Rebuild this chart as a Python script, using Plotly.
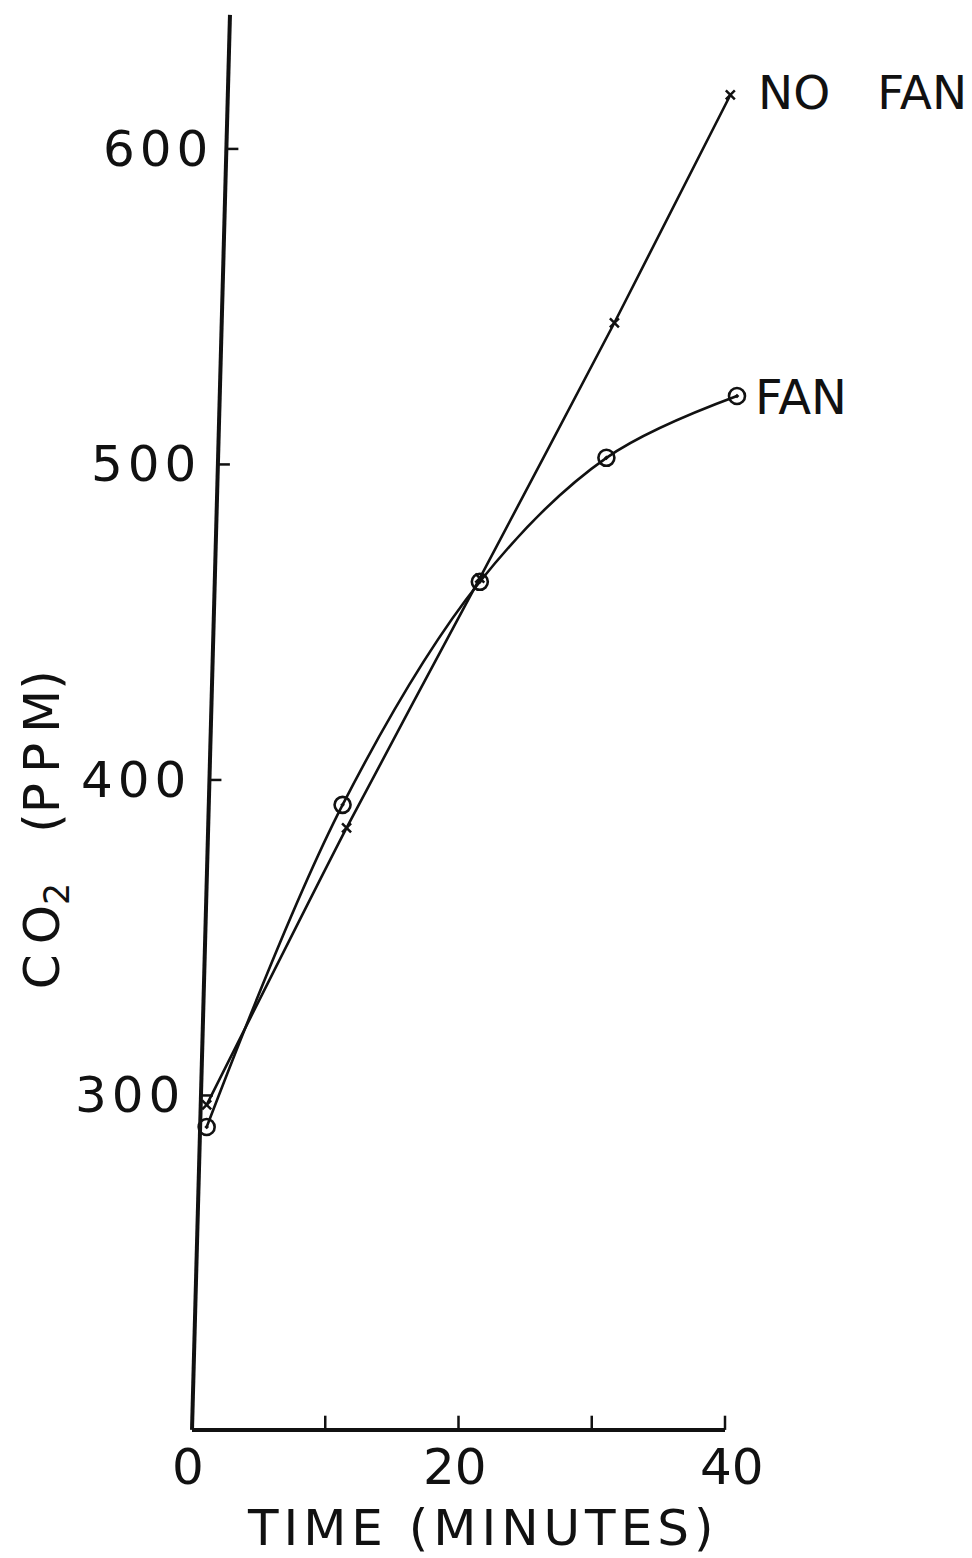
import plotly.graph_objects as go

# CO2 build-up over time, with and without a fan
time_no_fan = [1.1, 11.6, 21.6, 31.7, 40.4]
co2_no_fan = [297.0, 384.8, 464.0, 544.9, 617.1]

time_fan = [1.1, 11.3, 21.6, 31.1, 40.9]
co2_fan = [290.0, 392.1, 462.8, 502.1, 521.7]

x_ticks = [0, 10, 20, 30, 40]
x_tick_labels = ["0", "", "20", "", "40"]
y_ticks = [600, 500, 400, 300]
y_tick_labels = ["6\u200a0\u200a0", "5\u200a0\u200a0", "4\u200a0\u200a0", "3\u200a0\u200a0"]

FONT = "DejaVu Sans"
INK = "#111111"

# the axes span the whole page so hand-placed labels share the data scale
X_RANGE = [-14.409, 58.537]
Y_RANGE = [153.4, 647.2]
AXIS_X0 = 0.0
AXIS_Y0 = 194.0
# the hand-drawn vertical axis leans slightly to the right as it rises
AXIS_TOP_X = 2.85
AXIS_TOP_Y = 642.5


def axis_x_at(v):
    return AXIS_X0 + (AXIS_TOP_X - AXIS_X0) * (v - AXIS_Y0) / (AXIS_TOP_Y - AXIS_Y0)


fig = go.Figure()

fig.add_trace(go.Scatter(
    x=time_no_fan, y=co2_no_fan, mode="lines+markers", name="NO FAN",
    line=dict(color=INK, width=2.6, shape="spline", smoothing=0.6),
    marker=dict(symbol="x-thin", size=9, line=dict(color=INK, width=2.5)),
))
fig.add_trace(go.Scatter(
    x=time_fan, y=co2_fan, mode="lines+markers", name="FAN",
    line=dict(color=INK, width=2.6, shape="spline", smoothing=1.0),
    marker=dict(symbol="circle-open-dot", size=16, color=INK,
                line=dict(color=INK, width=2.6)),
))

shapes = [
    # vertical axis
    dict(type="line", xref="x", yref="y", x0=AXIS_X0, y0=AXIS_Y0,
         x1=AXIS_TOP_X, y1=AXIS_TOP_Y, line=dict(color=INK, width=4)),
    # horizontal axis
    dict(type="line", xref="x", yref="y", x0=AXIS_X0, y0=AXIS_Y0,
         x1=40, y1=AXIS_Y0, line=dict(color=INK, width=4)),
]
for v in y_ticks:
    xa = axis_x_at(v)
    shapes.append(dict(type="line", xref="x", yref="y", x0=xa, y0=v,
                       x1=xa + 0.9, y1=v, line=dict(color=INK, width=2.5)))
for t in x_ticks[1:]:
    shapes.append(dict(type="line", xref="x", yref="y", x0=t, y0=AXIS_Y0,
                       x1=t, y1=AXIS_Y0 + 4.5, line=dict(color=INK, width=2.5)))

annotations = []
label_right = [1.35, 0.45, -0.30, -0.75]
for v, txt, xr in zip(y_ticks, y_tick_labels, label_right):
    annotations.append(dict(
        x=xr, y=v, xref="x", yref="y", text=txt,
        showarrow=False, xanchor="right", yanchor="middle",
        font=dict(family=FONT, size=50, color=INK)))

x_label_pos = [-0.3, None, 19.7, None, 40.5]
for t, txt, xp in zip(x_ticks, x_tick_labels, x_label_pos):
    if txt:
        annotations.append(dict(
            x=xp, y=182.2, xref="x", yref="y", text=txt,
            showarrow=False, xanchor="center", yanchor="middle",
            font=dict(family=FONT, size=50, color=INK)))

annotations.append(dict(
    x=time_no_fan[-1], y=co2_no_fan[-1], xref="x", yref="y",
    text="NO\u2003FAN",
    showarrow=False, xanchor="left", yanchor="middle", xshift=26, yshift=2,
    font=dict(family=FONT, size=47, color=INK)))
annotations.append(dict(
    x=time_fan[-1], y=co2_fan[-1], xref="x", yref="y",
    text="FAN",
    showarrow=False, xanchor="left", yanchor="middle", xshift=16, yshift=-1,
    font=dict(family=FONT, size=48, color=INK)))

annotations.append(dict(
    x=21.6, y=162.9, xref="x", yref="y",
    text="\u200a".join("TIME (MINUTES)"),
    showarrow=False, xanchor="center", yanchor="middle",
    font=dict(family=FONT, size=50, color=INK)))

annotations.append(dict(
    x=-11.0, y=384.2, xref="x", yref="y",
    text="C\u2009O<sub>2</sub>\u2003(P\u2009P\u2009M)", textangle=-90,
    showarrow=False, xanchor="center", yanchor="middle",
    font=dict(family=FONT, size=50, color=INK)))

fig.update_layout(
    width=972, height=1558,
    margin=dict(l=0, r=0, t=0, b=0),
    paper_bgcolor="white", plot_bgcolor="white",
    showlegend=False,
    xaxis=dict(range=X_RANGE, visible=False, fixedrange=True),
    yaxis=dict(range=Y_RANGE, visible=False, fixedrange=True),
    shapes=shapes, annotations=annotations,
)

fig.write_html("out.html")
